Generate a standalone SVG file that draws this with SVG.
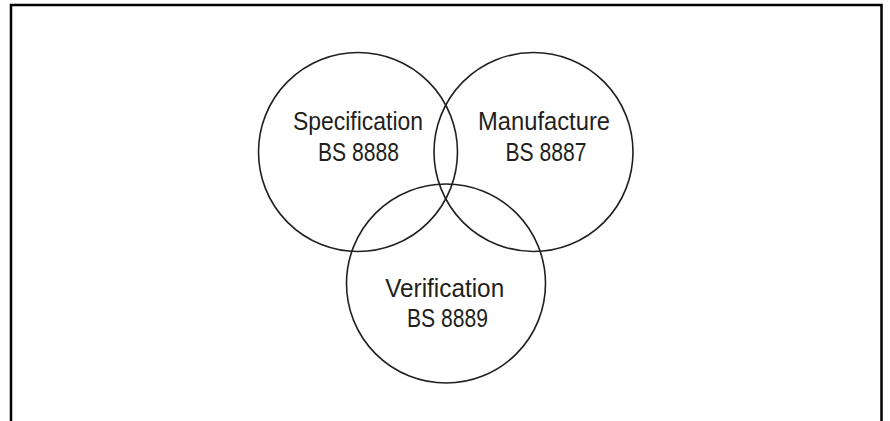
<svg xmlns="http://www.w3.org/2000/svg" width="890" height="421" viewBox="0 0 890 421">
<style>
.c{fill:none;stroke:#231f20;stroke-width:1.6}
.t{font-family:"Liberation Sans",Arial,sans-serif;font-size:25px;fill:#231f20;text-anchor:middle}
</style>
<rect x="0" y="0" width="890" height="421" fill="#fff"/>
<path d="M11,421 V5 H881.5 V421" fill="none" stroke="#000" stroke-width="2.5"/>
<g id="specification">
<circle class="c" cx="358" cy="152" r="99.5"/>
<text class="t" x="358" y="130" textLength="130" lengthAdjust="spacingAndGlyphs">Specification</text>
<text class="t" x="358.5" y="161" textLength="81" lengthAdjust="spacingAndGlyphs">BS 8888</text>
</g>
<g id="manufacture">
<circle class="c" cx="533.5" cy="152" r="99.5"/>
<text class="t" x="544" y="130" textLength="132" lengthAdjust="spacingAndGlyphs">Manufacture</text>
<text class="t" x="546" y="161" textLength="81" lengthAdjust="spacingAndGlyphs">BS 8887</text>
</g>
<g id="verification">
<circle class="c" cx="446" cy="283.5" r="99.5"/>
<text class="t" x="444.7" y="297.3" textLength="119" lengthAdjust="spacingAndGlyphs">Verification</text>
<text class="t" x="447.5" y="326.7" textLength="81" lengthAdjust="spacingAndGlyphs">BS 8889</text>
</g>
<g id="connectors"></g>
</svg>
